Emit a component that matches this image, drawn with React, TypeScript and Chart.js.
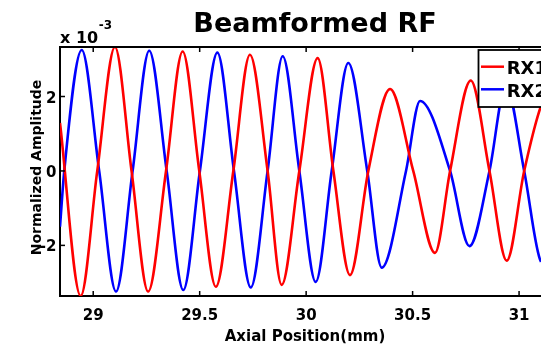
import React, { useEffect, useRef } from "react";
import { Chart, registerables } from "chart.js";

Chart.register(...registerables);

// Data (amplitudes in units of 1e-3)
const rx1X = [28.844, 28.941, 29.019, 29.102, 29.18, 29.258, 29.342, 29.42, 29.498, 29.576, 29.658, 29.736, 29.819, 29.885, 29.968, 30.054, 30.128, 30.206, 30.292, 30.394, 30.503, 30.605, 30.676, 30.773, 30.861, 30.942, 31.024, 31.103, 31.122];
const rx1Y = [1.29, -3.36, 0, 3.33, 0, -3.24, 0, 3.21, 0, -3.11, 0, 3.12, 0, -3.06, 0, 3.03, 0, -2.8, 0, 2.2, 0, -2.2, 0, 2.43, 0, -2.41, 0, 1.75, 1.95];
const rx2X = [28.844, 28.864, 28.946, 29.028, 29.107, 29.185, 29.263, 29.345, 29.423, 29.501, 29.583, 29.661, 29.74, 29.819, 29.89, 29.968, 30.045, 30.12, 30.198, 30.287, 30.355, 30.469, 30.535, 30.676, 30.767, 30.861, 30.938, 31.024, 31.103, 31.122];
const rx2Y = [-1.5, 0, 3.25, 0, -3.24, 0, 3.23, 0, -3.2, 0, 3.18, 0, -3.13, 0, 3.08, 0, -2.98, 0, 2.9, 0, -2.6, 0, 1.88, 0, -2.02, 0, 2.3, 0, -2.44, -2.5];

const seriesNames = ["RX1", "RX2"];
const seriesColors = ["#ff0000", "#0000ff"];
const xTicks = [29, 29.5, 30, 30.5, 31];
const xTickLabels = ["29", "29.5", "30", "30.5", "31"];
const yTicks = [-2, 0, 2];
const yTickLabels = ["-2", "0", "2"];
const titleText = "Beamformed RF";
const xLabel = "Axial Position(mm)";
const yLabel = "Normalized Amplitude";
const expBase = "x 10";
const expPower = "-3";

const FONT = '"DejaVu Sans", "Liberation Sans", sans-serif';

const decorPlugin = {
  id: "decor",
  afterDatasetsDraw(chart: any) {
    const { ctx, chartArea: a, scales } = chart;
    const xs = scales.x;
    const ys = scales.y;
    ctx.save();
    ctx.strokeStyle = "#000";
    ctx.fillStyle = "#000";
    // top frame line
    ctx.lineWidth = 2;
    ctx.beginPath();
    ctx.moveTo(a.left - 1, a.top);
    ctx.lineTo(a.right, a.top);
    ctx.stroke();
    // inward tick marks
    ctx.lineWidth = 1.5;
    xTicks.forEach((v) => {
      const px = xs.getPixelForValue(v);
      ctx.beginPath();
      ctx.moveTo(px, a.bottom);
      ctx.lineTo(px, a.bottom - 5);
      ctx.moveTo(px, a.top);
      ctx.lineTo(px, a.top + 5);
      ctx.stroke();
    });
    yTicks.forEach((v) => {
      const py = ys.getPixelForValue(v);
      ctx.beginPath();
      ctx.moveTo(a.left, py);
      ctx.lineTo(a.left + 5, py);
      ctx.stroke();
    });
    // tick labels
    ctx.font = `bold 15px ${FONT}`;
    ctx.textBaseline = "alphabetic";
    ctx.textAlign = "center";
    xTicks.forEach((v, i) => {
      ctx.fillText(xTickLabels[i], xs.getPixelForValue(v), a.bottom + 23.5);
    });
    ctx.textAlign = "right";
    yTicks.forEach((v, i) => {
      ctx.fillText(yTickLabels[i], a.left - 3.5, ys.getPixelForValue(v) + 6);
    });
    // title
    ctx.textAlign = "center";
    ctx.font = `bold 27px ${FONT}`;
    ctx.fillText(titleText, 315, 31.7);
    // exponent
    ctx.textAlign = "left";
    ctx.font = `bold 16px ${FONT}`;
    ctx.fillText(expBase, a.left, 43.3);
    const w = ctx.measureText(expBase).width;
    ctx.font = `bold 12px ${FONT}`;
    ctx.fillText(expPower, a.left + w + 0.5, 29.3);
    // x label
    ctx.textAlign = "center";
    ctx.font = `bold 15px ${FONT}`;
    ctx.fillText(xLabel, 305, 340.5);
    // y label
    ctx.save();
    ctx.translate(40.5, 167.5);
    ctx.rotate(-Math.PI / 2);
    ctx.font = `bold 14px ${FONT}`;
    ctx.textAlign = "center";
    ctx.fillText(yLabel, 0, 0);
    ctx.restore();
    // legend
    const lx = 478.5;
    const ly = 50;
    ctx.fillStyle = "#fff";
    ctx.fillRect(lx, ly, 100, 57);
    ctx.lineWidth = 1.8;
    ctx.strokeStyle = "#000";
    ctx.strokeRect(lx, ly, 100, 57);
    const rows = [66.7, 89.3];
    const bases = [74, 96.7];
    ctx.font = `bold 18px ${FONT}`;
    ctx.textAlign = "left";
    chart.data.datasets.forEach((ds: any, i: number) => {
      ctx.strokeStyle = ds.borderColor;
      ctx.lineWidth = 2.5;
      ctx.beginPath();
      ctx.moveTo(481, rows[i]);
      ctx.lineTo(504, rows[i]);
      ctx.stroke();
      ctx.fillStyle = "#000";
      ctx.fillText(ds.label, 506.7, bases[i]);
    });
    ctx.restore();
  },
};

export default function App() {
  const ref = useRef<HTMLCanvasElement | null>(null);
  useEffect(() => {
    if (!ref.current) return;
    const chart = new Chart(ref.current, {
      type: "line",
      data: {
        datasets: [
          {
            label: seriesNames[0],
            data: rx1X.map((x, i) => ({ x, y: rx1Y[i] })),
            borderColor: seriesColors[0],
            backgroundColor: seriesColors[0],
            borderWidth: 2.6,
            pointRadius: 0,
            cubicInterpolationMode: "monotone",
            tension: 0.4,
            fill: false,
          },
          {
            label: seriesNames[1],
            data: rx2X.map((x, i) => ({ x, y: rx2Y[i] })),
            borderColor: seriesColors[1],
            backgroundColor: seriesColors[1],
            borderWidth: 2.6,
            pointRadius: 0,
            cubicInterpolationMode: "monotone",
            tension: 0.4,
            fill: false,
          },
        ],
      },
      options: {
        animation: false,
        responsive: false,
        devicePixelRatio: 1,
        layout: { padding: { left: 60, top: 47, right: 0, bottom: 52 } },
        plugins: {
          legend: { display: false },
          title: { display: false },
          tooltip: { enabled: false },
        },
        elements: { line: { capBezierPoints: false } },
        scales: {
          x: {
            type: "linear",
            min: 28.844,
            max: 31.103,
            grid: { display: false, drawTicks: false },
            border: { display: true, color: "#000", width: 2 },
            ticks: { display: false },
            afterBuildTicks: (s: any) => {
              s.ticks = xTicks.map((v) => ({ value: v }));
            },
            afterFit: (s: any) => {
              s.height = 0;
            },
          },
          y: {
            type: "linear",
            min: -3.36,
            max: 3.33,
            grid: { display: false, drawTicks: false },
            border: { display: true, color: "#000", width: 2 },
            ticks: { display: false },
            afterBuildTicks: (s: any) => {
              s.ticks = yTicks.map((v) => ({ value: v }));
            },
            afterFit: (s: any) => {
              s.width = 0;
            },
          },
        },
      },
      plugins: [decorPlugin],
    } as any);
    return () => chart.destroy();
  }, []);
  return (
    <div style={{ position: "fixed", left: 0, top: 0, width: 541, height: 348, background: "#fff" }}>
      <canvas ref={ref} width={541} height={348} style={{ display: "block" }} />
    </div>
  );
}
